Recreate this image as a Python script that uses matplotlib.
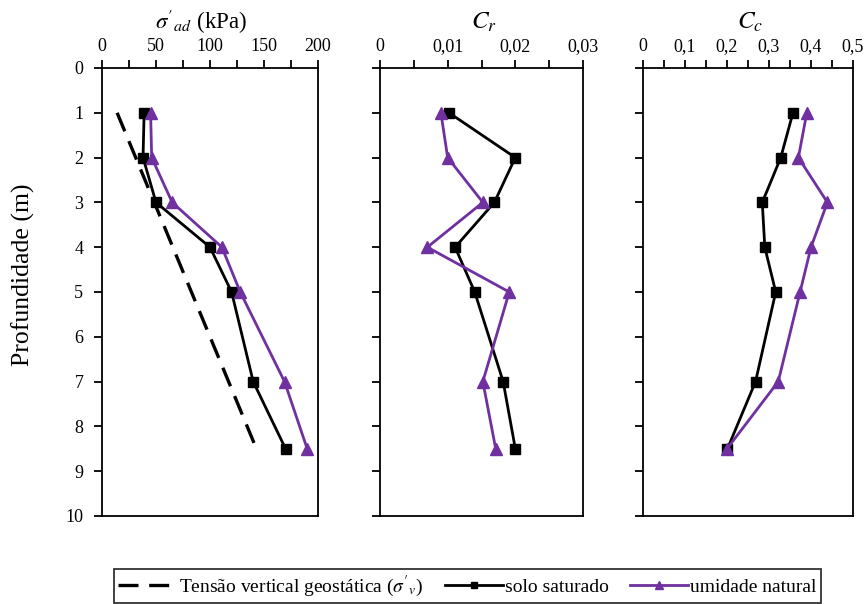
import matplotlib
matplotlib.use("Agg")
import matplotlib.pyplot as plt
from matplotlib.ticker import MultipleLocator, FixedLocator

plt.rcParams["font.family"] = ["Liberation Serif", "DejaVu Serif"]
plt.rcParams["mathtext.fontset"] = "stix"

# Depths of the samples (m)
depth = [1, 2, 3, 4, 5, 7, 8.5]

# Pre-consolidation stress (kPa)
sig_sat = [39, 38, 50, 100, 120, 140, 170]
sig_nat = [45, 46, 65, 111, 128, 169, 190]

# Geostatic vertical effective stress line (kPa)
geo_depth = [1, 8.5]
geo_stress = [14, 143]

# Recompression index
cr_sat = [0.0102, 0.0200, 0.0169, 0.0111, 0.0140, 0.0182, 0.0200]
cr_nat = [0.0090, 0.0100, 0.0152, 0.0070, 0.0191, 0.0152, 0.0171]

# Compression index
cc_sat = [0.357, 0.328, 0.284, 0.290, 0.316, 0.268, 0.201]
cc_nat = [0.390, 0.370, 0.439, 0.400, 0.374, 0.322, 0.200]

# Tick labels
sig_ticks = [0, 50, 100, 150, 200]
cr_ticks = [0, 0.01, 0.02, 0.03]
cr_labels = ["0", "0,01", "0,02", "0,03"]
cc_ticks = [0, 0.1, 0.2, 0.3, 0.4, 0.5]
cc_labels = ["0", "0,1", "0,2", "0,3", "0,4", "0,5"]
depth_ticks = list(range(0, 11))

PURPLE = "#7030A0"

fig = plt.figure(figsize=(8.66, 6.04), dpi=100)
W, H = 866, 604

def make_axes(x0, x1, y0=68, y1=516):
    return fig.add_axes([x0 / W, (H - y1) / H, (x1 - x0) / W, (y1 - y0) / H])

ax1 = make_axes(102, 318)
ax2 = make_axes(380, 583)
ax3 = make_axes(643, 853)

line_kw_sat = dict(color="black", lw=2, marker="s", ms=7.5, mec="black", mfc="black")
line_kw_nat = dict(color=PURPLE, lw=2, marker="^", ms=8.5, mec=PURPLE, mfc=PURPLE)

h_geo, = ax1.plot(geo_stress, geo_depth, color="black", lw=2.4, dashes=(6, 3.2))
h_sat, = ax1.plot(sig_sat, depth, **line_kw_sat)
h_nat, = ax1.plot(sig_nat, depth, **line_kw_nat)

ax2.plot(cr_sat, depth, **line_kw_sat)
ax2.plot(cr_nat, depth, **line_kw_nat)

ax3.plot(cc_sat, depth, **line_kw_sat)
ax3.plot(cc_nat, depth, **line_kw_nat)

for ax in (ax1, ax2, ax3):
    ax.set_ylim(10, 0)
    ax.xaxis.tick_top()
    ax.xaxis.set_label_position("top")
    ax.yaxis.set_major_locator(FixedLocator(depth_ticks))
    ax.tick_params(axis="both", which="both", direction="out", length=5.5,
                   width=1.3, labelsize=13, colors="black")
    ax.tick_params(axis="y", pad=8)
    ax.tick_params(axis="x", pad=4)
    for s in ax.spines.values():
        s.set_linewidth(1.3)

ax1.set_xlim(0, 200)
ax1.set_xticks(sig_ticks)
ax1.xaxis.set_minor_locator(MultipleLocator(25))
ax1.set_yticklabels([str(d) for d in depth_ticks])

ax2.set_xlim(0, 0.03)
ax2.set_xticks(cr_ticks)
ax2.set_xticklabels(cr_labels)
ax2.xaxis.set_minor_locator(MultipleLocator(0.005))
ax2.set_yticklabels([])

ax3.set_xlim(0, 0.5)
ax3.set_xticks(cc_ticks)
ax3.set_xticklabels(cc_labels)
ax3.xaxis.set_minor_locator(MultipleLocator(0.05))
ax3.set_yticklabels([])

# Panel headings, placed above the top tick labels
fig.text(201.5 / W, (H - 22) / H, r"$\sigma'_{ad}$ (kPa)", ha="center", va="center", fontsize=16.5)
fig.text(484 / W, (H - 22) / H, r"$C_r$", ha="center", va="center", fontsize=18)
fig.text(750 / W, (H - 22) / H, r"$C_c$", ha="center", va="center", fontsize=18)

fig.text(23 / W, (H - 275) / H, "Profundidade (m)", rotation=90,
         ha="center", va="center", fontsize=18.5)

leg = fig.legend([h_geo, h_sat, h_nat],
                 [r"Tensão vertical geostática ($\sigma'_v$)", "solo saturado", "umidade natural"],
                 loc="center", bbox_to_anchor=(467.5 / W, (H - 586) / H), ncol=3, fontsize=14,
                 frameon=True, fancybox=False, edgecolor="black", handlelength=3.0,
                 handletextpad=0.1, columnspacing=1.1, borderpad=0.2, borderaxespad=0,
                 markerscale=0.6)
leg.get_frame().set_linewidth(1.3)

fig.savefig("out.png", dpi=100)
